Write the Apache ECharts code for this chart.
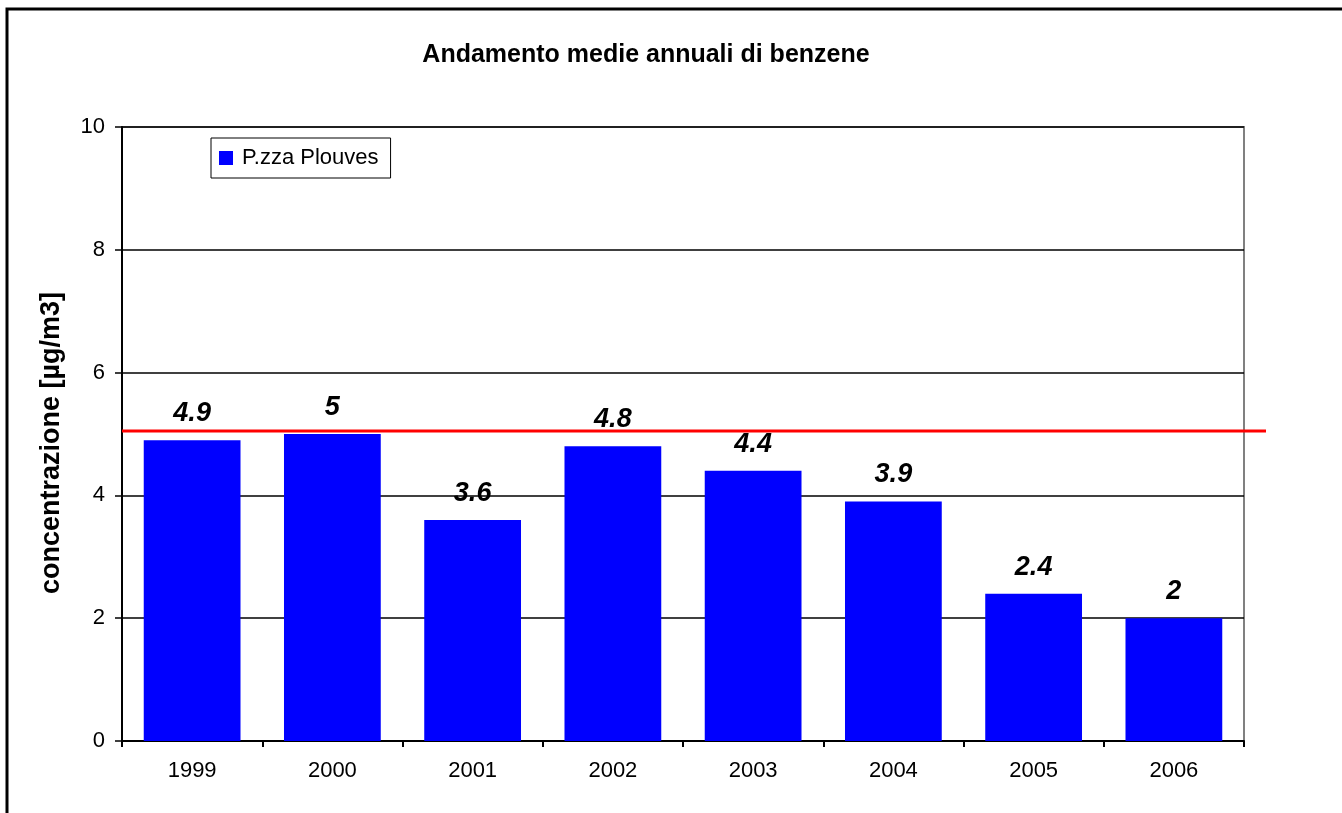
<!DOCTYPE html>
<html>
<head>
<meta charset="utf-8">
<script src="https://cdn.jsdelivr.net/npm/echarts@6/dist/echarts.min.js"></script>
<style>html,body{margin:0;padding:0;background:#fff;}#c{width:1342px;height:813px;}</style>
</head>
<body>
<div id="c"></div>
<script>
const categories = ['1999','2000','2001','2002','2003','2004','2005','2006'];
const seriesName = 'P.zza Plouves';
const values = [4.9, 5, 3.6, 4.8, 4.4, 3.9, 2.4, 2];
const limitValue = [5.05, 5.05];
const yTicks = [0, 2, 4, 6, 8, 10];

const chart = echarts.init(document.getElementById('c'), null, {renderer: 'canvas'});
const font = '"Liberation Sans", Arial, sans-serif';
chart.setOption({
  animation: false,
  backgroundColor: '#fff',
  title: {
    text: 'Andamento medie annuali di benzene',
    left: 641, top: 38, textAlign: 'center',
    textStyle: {fontFamily: font, fontSize: 25, fontWeight: 'bold', color: '#000'}
  },
  graphic: [{
    type: 'rect', shape: {x: 7, y: 9, width: 1400, height: 900},
    style: {fill: 'none', stroke: '#000', lineWidth: 3}, silent: true, z: 100
  }],
  legend: {
    data: [seriesName],
    left: 211, top: 138,
    orient: 'horizontal',
    backgroundColor: '#fff',
    borderColor: '#000', borderWidth: 1,
    padding: [9, 12, 9, 8],
    itemWidth: 14, itemHeight: 14, itemGap: 6,
    icon: 'rect',
    textStyle: {fontFamily: font, fontSize: 22, color: '#000', padding: [0, 0, 0, 4]}
  },
  grid: [
    {left: 122, right: 98, top: 127, bottom: 72, show: true, borderColor: '#808080', borderWidth: 2, backgroundColor: 'transparent'},
    {left: 122, right: 76, top: 127, bottom: 72, show: false}
  ],
  xAxis: [
    {
      type: 'category', data: categories, gridIndex: 0,
      axisLine: {show: true, lineStyle: {color: '#000', width: 2}},
      axisTick: {show: true, alignWithLabel: false, length: 6, lineStyle: {color: '#000', width: 2}},
      axisLabel: {fontFamily: font, fontSize: 22, color: '#000', margin: 19},
      splitLine: {show: false}
    },
    {type: 'value', gridIndex: 1, min: 0, max: 1, show: false}
  ],
  yAxis: [
    {
      type: 'value', gridIndex: 0, min: 0, max: 10, interval: 2,
      name: 'concentrazione [µg/m3]', nameLocation: 'middle', nameGap: 57,
      nameTextStyle: {fontFamily: font, fontSize: 27, fontWeight: 'bold', color: '#000', padding: [0, 18, 0, 0]},
      axisLine: {show: true, lineStyle: {color: '#000', width: 2}},
      axisTick: {show: true, length: 7, lineStyle: {color: '#000', width: 1.5}},
      axisLabel: {fontFamily: font, fontSize: 22, color: '#000', margin: 17,
        formatter: v => yTicks.includes(v) ? String(v) : ''},
      splitLine: {show: true, lineStyle: {color: '#000', width: 1.5}}
    },
    {type: 'value', gridIndex: 1, min: 0, max: 10, show: false}
  ],
  series: [
    {
      name: seriesName, type: 'bar', xAxisIndex: 0, yAxisIndex: 0,
      data: values, barCategoryGap: '31%',
      itemStyle: {color: '#0000ff'},
      label: {
        show: true, position: 'top', distance: 13,
        fontFamily: font, fontSize: 27, fontWeight: 'bold', fontStyle: 'italic', color: '#000'
      }
    },
    {
      name: 'limite', type: 'line', xAxisIndex: 1, yAxisIndex: 1,
      data: [[0, limitValue[0]], [1, limitValue[1]]],
      symbol: 'none', lineStyle: {color: '#ff0000', width: 3}, z: 5
    }
  ]
});
</script>
</body>
</html>
